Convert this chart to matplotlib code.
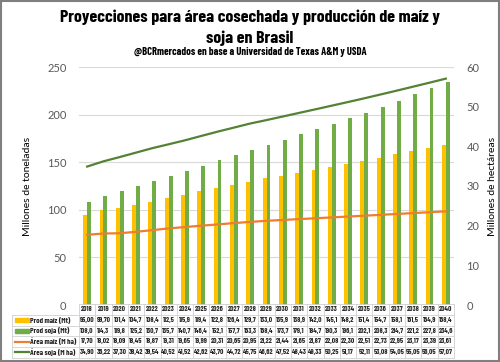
import matplotlib
matplotlib.use("Agg")
import numpy as np
from matplotlib import pyplot as plt
from matplotlib.transforms import blended_transform_factory
from matplotlib.patches import Rectangle
from matplotlib.lines import Line2D

years = list(range(2018, 2041))
prod_maiz = [95.00, 99.70, 101.4, 104.7, 108.4, 112.5, 115.9, 119.4, 122.8, 126.4, 129.7, 133.0,
             135.9, 138.9, 142.0, 145.1, 148.2, 151.4, 154.7, 158.1, 161.5, 164.9, 168.4]
prod_soja = [108.0, 114.3, 119.8, 125.2, 130.7, 135.7, 140.7, 146.4, 152.1, 157.7, 163.3, 168.4,
             173.7, 179.1, 184.7, 190.3, 196.1, 202.1, 208.3, 214.7, 221.2, 227.8, 234.6]
area_maiz = [17.70, 18.02, 18.09, 18.45, 18.87, 19.31, 19.65, 19.99, 20.31, 20.65, 20.95, 21.22,
             21.44, 21.65, 21.87, 22.08, 22.30, 22.51, 22.73, 22.95, 23.17, 23.39, 23.61]
area_soja = [34.90, 36.22, 37.30, 38.42, 39.54, 40.52, 41.52, 42.62, 43.70, 44.72, 45.75, 46.62,
             47.52, 48.43, 49.33, 50.25, 51.17, 52.11, 53.08, 54.05, 55.05, 56.05, 57.07]
series_names = ["Prod maíz (Mt)", "Prod soja (Mt)", "Área maíz (M ha)", "Área soja (M ha)"]

YELLOW = "#FFC000"
GREEN = "#70AD47"
ORANGE = "#ED7D31"
DKGREEN = "#548235"
GRID = "#D9D9D9"
TXT = "#595959"

tfont = ["Barlow Condensed", "DejaVu Sans"]
lfont = ["Lato", "DejaVu Sans"]

W, H = 500, 362
fig = plt.figure(figsize=(W / 100, H / 100), dpi=100)
ax = fig.add_axes([79 / W, 1 - 305 / H, (454 - 79) / W, (305 - 67) / H])
ax2 = ax.twinx()

x = np.arange(len(years))
bw = 0.24
ax.bar(x - bw / 2, prod_maiz, bw, color=YELLOW, zorder=2)
ax.bar(x + bw / 2, prod_soja, bw, color=GREEN, zorder=2)
ax2.plot(x, area_maiz, color=ORANGE, lw=1.6)
ax2.plot(x, area_soja, color=DKGREEN, lw=1.6)

ax.set_xlim(-0.5, len(years) - 0.5)
ax.set_ylim(0, 250)
ax2.set_ylim(0, 60)
ax.set_yticks(range(0, 251, 50))
ax2.set_yticks(range(0, 61, 10))
ax.set_xticks([])
ax.yaxis.grid(True, color=GRID, lw=0.8)
ax.set_axisbelow(True)
for a in (ax, ax2):
    for s in a.spines.values():
        s.set_visible(False)
    a.tick_params(axis="y", length=0, labelsize=8, labelcolor=TXT, pad=9)
    for lab in a.get_yticklabels():
        lab.set_family(lfont)
ax.set_ylabel("Millones de toneladas", fontsize=7.5, family=lfont, labelpad=11)
ax2.set_ylabel("Millones de hectáreas", fontsize=7.5, family=lfont, labelpad=6)

# titles
fig.text(0.5, 1 - 17 / H, "Proyecciones para área cosechada y producción de maíz y",
         ha="center", va="center", fontsize=12.9, fontweight="bold", family=tfont)
fig.text(0.5, 1 - 38 / H, "soja en Brasil",
         ha="center", va="center", fontsize=12.9, fontweight="bold", family=tfont)
fig.text(0.5, 1 - 52 / H, "@BCRmercados en base a Universidad de Texas A&M y USDA",
         ha="center", va="center", fontsize=7.6, fontweight="bold", family=tfont)

# data table under the axes
tr = blended_transform_factory(ax.transData, fig.transFigure)
ftr = fig.transFigure
rows_px = [304, 314.5, 325.5, 336, 347, 357.5]
fy = [1 - r / H for r in rows_px]
n = len(years)
lc = "#D0D0D0"
for k, yy in enumerate(fy):
    x0 = 79 / W if k == 0 else 12 / W
    fig.add_artist(Line2D([x0, 454 / W], [yy, yy], transform=ftr, color=lc, lw=0.6))
for i in range(n + 1):
    fig.add_artist(Line2D([i - 0.5, i - 0.5], [fy[0], fy[-1]], transform=tr, color=lc, lw=0.6))
fig.add_artist(Line2D([12 / W, 12 / W], [fy[1], fy[-1]], transform=ftr, color=lc, lw=0.6))

tbl_font = dict(fontsize=5.2, fontweight="bold", family=tfont, color="#262626")
for i, yr in enumerate(years):
    fig.text(i, (fy[0] + fy[1]) / 2, str(yr), transform=tr, ha="center", va="center", **tbl_font)


def fmt(v):
    s = f"{v:.2f}" if v < 100 else f"{v:.1f}"
    return s.replace(".", ",")


for r, vals in enumerate([prod_maiz, prod_soja, area_maiz, area_soja]):
    yc = (fy[r + 1] + fy[r + 2]) / 2
    for i, v in enumerate(vals):
        fig.text(i, yc, fmt(v), transform=tr, ha="center", va="center", **tbl_font)
    fig.text(30 / W, yc, series_names[r], transform=ftr, ha="left", va="center",
             fontsize=5.6, fontweight="bold", family=tfont, color="#262626")
    if r < 2:
        fig.add_artist(Rectangle((15 / W, yc - 2 / H), 14 / W, 4 / H, transform=ftr,
                                 color=[YELLOW, GREEN][r]))
    else:
        fig.add_artist(Line2D([15 / W, 29 / W], [yc, yc], transform=ftr,
                              color=[ORANGE, DKGREEN][r - 2], lw=1.6))

# outer frame
fig.add_artist(Rectangle((0.002, 0.003), 0.995, 0.994, transform=ftr, fill=False,
                         edgecolor="#7F7F7F", lw=1.5))

fig.savefig("out.png", dpi=100)
